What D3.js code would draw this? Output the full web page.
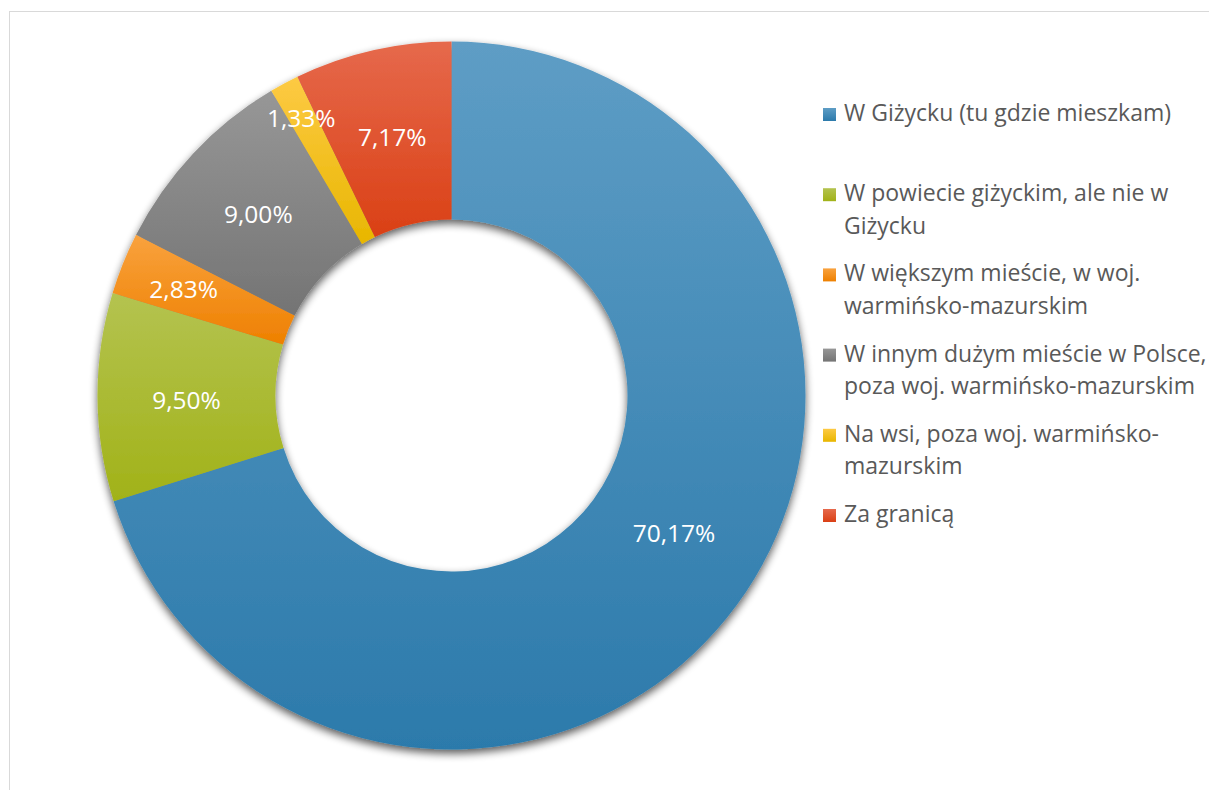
<!DOCTYPE html>
<html><head><meta charset="utf-8">
<script src="https://cdn.jsdelivr.net/npm/d3@7"></script>
<style>
html,body{margin:0;padding:0;background:#fff;}
svg{display:block;}
</style></head>
<body>
<svg id="chart" width="1209" height="790"></svg>
<script>
// ---- data ----
const categories = [
  "W Giżycku (tu gdzie mieszkam)",
  "W powiecie giżyckim, ale nie w Giżycku",
  "W większym mieście, w woj. warmińsko-mazurskim",
  "W innym dużym mieście w Polsce, poza woj. warmińsko-mazurskim",
  "Na wsi, poza woj. warmińsko-mazurskim",
  "Za granicą"
];
const values = [70.17, 9.50, 2.83, 9.00, 1.33, 7.17];

// ---- style / layout config ----
const colorTop    = ["#5e9dc5", "#b4c350", "#f9a23e", "#979797", "#fdca44", "#e6694c"];
const colorBottom = ["#2c7aab", "#a1b218", "#ee8000", "#747474", "#e8b600", "#da4015"];
const labelNudge  = [[9,-19],[0,3],[-22,-7],[0,0],[-25,-44],[0,0]];
const cx = 451.5, cy = 395.5, rOuter = 354, rInner = 176;
const fontFamily = "'Open Sans', 'DejaVu Sans', sans-serif";

const svg = d3.select("#chart");
const fmt = v => d3.format(".2f")(v).replace(".", ",") + "%";

// border of chart area
svg.append("rect").attr("x", 9.5).attr("y", 11.5)
  .attr("width", 1300).attr("height", 900)
  .attr("fill", "none").attr("stroke", "#d9d9d9").attr("stroke-width", 1);

const defs = svg.append("defs");
values.forEach((v, i) => {
  const g = defs.append("linearGradient").attr("id", "grad" + i)
    .attr("x1", 0).attr("y1", 0).attr("x2", 0).attr("y2", 1);
  g.append("stop").attr("offset", "0%").attr("stop-color", colorTop[i]);
  g.append("stop").attr("offset", "100%").attr("stop-color", colorBottom[i]);
});
const f = defs.append("filter").attr("id", "shadow")
  .attr("x", "-10%").attr("y", "-10%").attr("width", "120%").attr("height", "120%");
f.append("feGaussianBlur").attr("in", "SourceAlpha").attr("stdDeviation", 4.5).attr("result", "b");
f.append("feOffset").attr("in", "b").attr("dx", 0).attr("dy", 4).attr("result", "o");
f.append("feComponentTransfer").attr("in", "o").attr("result", "s")
  .append("feFuncA").attr("type", "linear").attr("slope", 0.65);
const m = f.append("feMerge");
m.append("feMergeNode").attr("in", "s");
m.append("feMergeNode").attr("in", "SourceGraphic");

const pie = d3.pie().sort(null).value(d => d).startAngle(0).endAngle(2 * Math.PI);
const arcs = pie(values);
const arc = d3.arc().innerRadius(rInner).outerRadius(rOuter);

const g = svg.append("g").attr("transform", `translate(${cx},${cy})`);
g.append("g").attr("filter", "url(#shadow)")
  .selectAll("path").data(arcs).join("path")
  .attr("d", arc)
  .attr("fill", (d, i) => `url(#grad${i})`);

g.append("g").selectAll("text").data(arcs).join("text")
  .attr("transform", (d, i) => {
    const c = arc.centroid(d);
    return `translate(${c[0] + labelNudge[i][0]},${c[1] + labelNudge[i][1]})`;
  })
  .attr("text-anchor", "middle")
  .attr("dy", "0.36em")
  .attr("fill", "#ffffff")
  .attr("font-family", fontFamily)
  .attr("font-size", 24.5)
  .text(d => fmt(d.data));

// ---- legend ----
const legX = 823, legTextX = 844, legY0 = 121, legStep = 80.2, lineH = 32.5, maxW = 365;
const leg = svg.append("g").attr("font-family", fontFamily).attr("font-size", 23).attr("fill", "#595959");
function wrap(text) {
  // tokens: split on spaces, allow break after hyphen
  const tokens = [];
  text.split(" ").forEach((w, wi) => {
    const parts = w.split(/(?<=-)/);
    parts.forEach((p, pi) => tokens.push({t: p, space: pi === 0 && wi > 0}));
  });
  const tmp = leg.append("text");
  const lines = [];
  let cur = "";
  tokens.forEach(tok => {
    const cand = cur === "" ? tok.t : cur + (tok.space ? " " : "") + tok.t;
    tmp.text(cand);
    if (tmp.node().getComputedTextLength() > maxW && cur !== "") {
      lines.push(cur);
      cur = tok.t;
    } else cur = cand;
  });
  lines.push(cur);
  tmp.remove();
  return lines;
}
categories.forEach((c, i) => {
  const y = legY0 + i * legStep;
  leg.append("rect").attr("x", legX).attr("y", y - 13).attr("width", 13).attr("height", 13)
    .attr("fill", `url(#grad${i})`);
  const lines = wrap(c);
  const t = leg.append("text").attr("x", legTextX).attr("y", y);
  lines.forEach((l, li) => {
    t.append("tspan").attr("x", legTextX).attr("y", y + li * lineH).text(l);
  });
});
</script>
</body></html>
